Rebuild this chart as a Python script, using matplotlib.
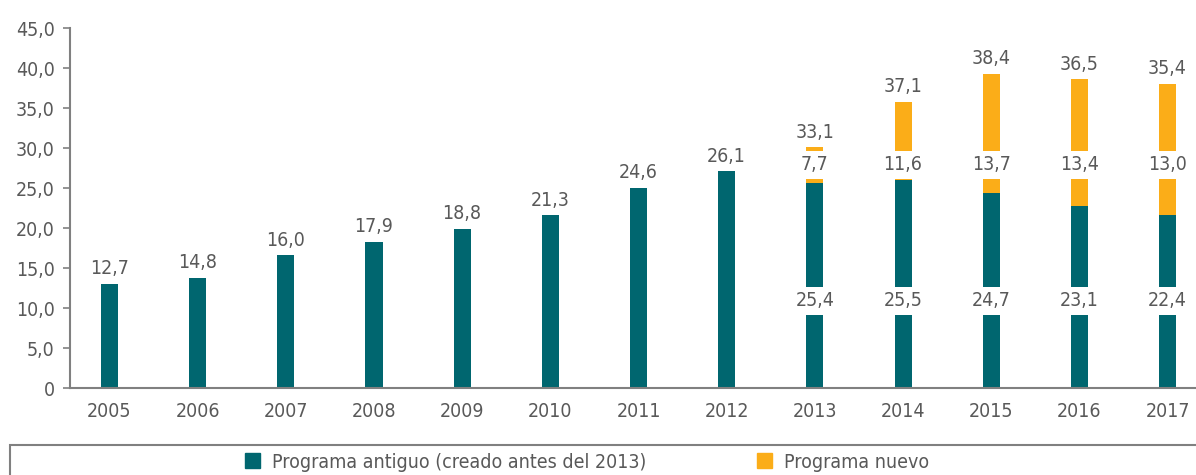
import matplotlib
matplotlib.use('Agg')
import matplotlib.pyplot as plt
import matplotlib.patches as mpatches
import numpy as np

plt.rcParams['font.family'] = ['DejaVu Sans']
plt.rcParams['font.stretch'] = 'condensed'

# data
years = ['2005', '2006', '2007', '2008', '2009', '2010', '2011', '2012',
         '2013', '2014', '2015', '2016', '2017']
# drawn bar heights (as they appear in the chart)
antiguo = [13.0, 13.75, 16.6, 18.25, 19.9, 21.6, 25.0, 27.1,
           25.66, 26.0, 24.4, 22.75, 21.6]
nuevo = [0, 0, 0, 0, 0, 0, 0, 0, 4.45, 9.75, 14.85, 15.85, 16.4]
# printed labels
lbl_total = ['12,7', '14,8', '16,0', '17,9', '18,8', '21,3', '24,6', '26,1',
             '33,1', '37,1', '38,4', '36,5', '35,4']
lbl_antiguo = ['25,4', '25,5', '24,7', '23,1', '22,4']
lbl_nuevo = ['7,7', '11,6', '13,7', '13,4', '13,0']

teal = '#00666F'
orange = '#FBAD18'
grey_txt = '#595959'
fs = 14

fig = plt.figure(figsize=(11.96, 4.75), dpi=100)
ax = fig.add_axes([70 / 1196, 87 / 475, 1 - 70 / 1196, 360 / 475])

x = np.arange(len(years))
w = 0.193
ax.bar(x, antiguo, width=w, color=teal, zorder=2)
ax.bar(x, nuevo, width=w, bottom=antiguo, color=orange, zorder=2)

box = dict(boxstyle='square,pad=0.22', fc='white', ec='none')
tops = np.array(antiguo) + np.array(nuevo)
for i, t in enumerate(lbl_total):
    ax.annotate(t, (x[i], tops[i]), xytext=(0, 4), textcoords='offset points',
                ha='center', va='bottom', fontsize=fs, color=grey_txt, zorder=3)

first = years.index('2013')
for k in range(len(lbl_antiguo)):
    i = first + k
    ax.text(x[i], 10.9, lbl_antiguo[k], ha='center', va='center',
            fontsize=fs, color=grey_txt, bbox=box, zorder=3)
    ax.text(x[i], 27.9, lbl_nuevo[k], ha='center', va='center',
            fontsize=fs, color=grey_txt, bbox=box, zorder=3)

ax.set_xlim(-0.448, 12.323)
ax.set_ylim(0, 45)
ax.set_yticks(np.arange(0, 46, 5))
ax.set_yticklabels(['0'] + ['{:.1f}'.format(v).replace('.', ',') for v in np.arange(5, 46, 5)])
ax.set_xticks(x)
ax.set_xticklabels(years)
ax.tick_params(axis='x', length=0, pad=10, labelsize=fs, labelcolor=grey_txt)
ax.tick_params(axis='y', length=5, width=1.2, color='#808080', pad=6,
               labelsize=fs, labelcolor=grey_txt)

for s in ['top', 'right']:
    ax.spines[s].set_visible(False)
for s in ['left', 'bottom']:
    ax.spines[s].set_color('#808080')
    ax.spines[s].set_linewidth(1.5)

# legend frame
fig.patches.append(mpatches.Rectangle((10 / 1196, -0.1), 1.1, 0.1 + 30 / 475,
                                      transform=fig.transFigure, fill=False,
                                      ec='#808080', lw=1.5))
handles = [mpatches.Patch(color=teal), mpatches.Patch(color=orange)]
fig.legend(handles, ['Programa antiguo (creado antes del 2013)', 'Programa nuevo'],
           ncol=2, loc='center', bbox_to_anchor=(587 / 1196, 13 / 475),
           frameon=False, fontsize=fs, labelcolor=grey_txt,
           handlelength=0.77, handleheight=0.77, handletextpad=0.6,
           columnspacing=5.7)

fig.savefig('out.png', dpi=100)
